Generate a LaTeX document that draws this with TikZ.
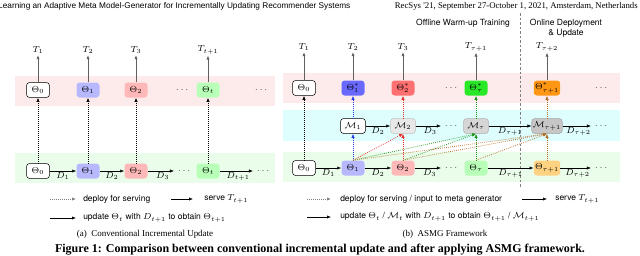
\documentclass[tikz,border=0pt]{standalone}
\usepackage{amsmath, amssymb}
\usepackage{fontspec}
\newfontfamily\helv{TeX Gyre Heros}
\newfontfamily\hdrsans{Liberation Sans}
\newfontfamily\tms{Liberation Serif}
\usetikzlibrary{
    arrows.meta,
    positioning,
    calc
}

\definecolor{bandred}{RGB}{253,235,235}
\definecolor{bandcyan}{RGB}{222,253,253}
\definecolor{bandgreen}{RGB}{234,252,234}
\definecolor{lblue}{RGB}{184,184,255}
\definecolor{lred}{RGB}{255,184,184}
\definecolor{lgreen}{RGB}{184,255,184}
\definecolor{lorange}{RGB}{255,210,130}
\definecolor{dblue}{RGB}{105,105,255}
\definecolor{dred}{RGB}{255,112,112}
\definecolor{dgreen}{RGB}{40,232,40}
\definecolor{dorange}{RGB}{255,150,20}
\definecolor{ablue}{RGB}{40,60,230}
\definecolor{ared}{RGB}{235,45,45}
\definecolor{agreen}{RGB}{30,150,30}
\definecolor{abrown}{RGB}{180,110,40}

\begin{document}
\begin{tikzpicture}[
        x=0.8pt, y=-0.8pt,
        band/.style={draw=none, inner sep=0pt},
        thbox/.style={draw, rounded corners=2.5pt, minimum width=18.4pt, minimum height=12pt,
                      inner sep=1pt, font=\fontsize{7}{8}\selectfont},
        metabox/.style={thbox, minimum width=20pt},
        tlab/.style={font=\fontsize{7.5}{9}\selectfont, inner sep=1pt},
        dlab/.style={font=\fontsize{7.5}{9}\selectfont, inner sep=1pt, below},
        dotnode/.style={font=\fontsize{7}{8}\selectfont, inner sep=0pt},
        legtext/.style={font=\helv\fontsize{6.8}{8}\selectfont, anchor=west, inner sep=0pt},
        subcap/.style={font=\tms\fontsize{7.2}{9}\selectfont, inner sep=0pt},
        upd/.style={-{Latex[length=3.2pt, width=2.6pt]}, line width=0.5pt},
        srv/.style={-{Latex[length=3.2pt, width=2.6pt]}, line width=0.8pt, gray!75!black},
        dep/.style={-{Latex[length=3.2pt, width=2.6pt]}, line width=0.6pt, densely dotted},
    ]
        \useasboundingbox (0,0) rectangle (640,255);

        % Page header and caption
        \node[anchor=west, inner sep=0pt, font=\hdrsans\fontsize{6.6}{8}\selectfont] (hdrl) at (-2,6)
            {Learning an Adaptive Meta Model-Generator for Incrementally Updating Recommender Systems};
        \node[anchor=east, inner sep=0pt, font=\tms\fontsize{7}{8}\selectfont] (hdrr) at (638,6)
            {RecSys '21, September 27-October 1, 2021, Amsterdam, Netherlands};
        \node[anchor=base, inner sep=0pt, font=\tms\bfseries\fontsize{9.6}{11}\selectfont] (figcap) at (320,252.2)
            {Figure 1: Comparison between conventional incremental update and after applying ASMG framework.};

        % (a) Conventional: bands
        \node[band, fill=bandred, minimum width=208pt, minimum height=24pt] (redA) at (145,91) {};
        \node[band, fill=bandgreen, minimum width=208pt, minimum height=24pt] (greenA) at (145,168) {};

        % (a) serving row
        \node[thbox, fill=white] (a0t) at (38,90) {$\Theta_0$};
        \node[thbox, draw=none, fill=lblue] (a1t) at (88,90) {$\Theta_1$};
        \node[thbox, draw=none, fill=lred] (a2t) at (136,90) {$\Theta_2$};
        \node[dotnode] (adots1t) at (183,90) {$\dots$};
        \node[thbox, draw=none, fill=lgreen] (a3t) at (208,90) {$\Theta_t$};
        \node[dotnode] (adots2t) at (262,90) {$\dots$};

        % (a) training row
        \node[thbox, fill=white] (a0b) at (38,171) {$\Theta_0$};
        \node[thbox, draw=none, fill=lblue] (a1b) at (88,171) {$\Theta_1$};
        \node[thbox, draw=none, fill=lred] (a2b) at (136,171) {$\Theta_2$};
        \node[dotnode] (adots1b) at (185,171) {$\dots$};
        \node[thbox, draw=none, fill=lgreen] (a3b) at (208,171) {$\Theta_t$};
        \node[dotnode] (adots2b) at (264,171) {$\dots$};

        % (a) test periods
        \node[tlab] (ta1) at (38,50) {$T_1$};
        \node[tlab] (ta2) at (88,50) {$T_2$};
        \node[tlab] (ta3) at (136,50) {$T_3$};
        \node[tlab] (ta4) at (208,50) {$T_{t+1}$};

        % (a) arrows
        \draw[srv] (a0t) -- (ta1);
        \draw[srv] (a1t) -- (ta2);
        \draw[srv] (a2t) -- (ta3);
        \draw[srv] (a3t) -- (ta4);
        \draw[dep] (a0b) -- (a0t);
        \draw[dep] (a1b) -- (a1t);
        \draw[dep] (a2b) -- (a2t);
        \draw[dep] (a3b) -- (a3t);
        \draw[upd] (a0b) -- node[dlab] {$D_1$} (a1b);
        \draw[upd] (a1b) -- node[dlab] {$D_2$} (a2b);
        \draw[upd, shorten >=3pt] (a2b) -- node[dlab] {$D_3$} (adots1b);
        \draw[upd, shorten >=3pt] (a3b) -- node[dlab] {$D_{t+1}$} (adots2b);

        % (a) legend
        \coordinate (la1s) at (50,199);
        \coordinate (la1e) at (76,199);
        \coordinate (la2s) at (171,199);
        \coordinate (la2e) at (193,199);
        \coordinate (la3s) at (50,218);
        \coordinate (la3e) at (76,218);
        \draw[dep, gray] (la1s) -- (la1e);
        \draw[upd] (la2s) -- (la2e);
        \draw[upd] (la3s) -- (la3e);
        \node[legtext] (lta1) at (83,199) {deploy for serving};
        \node[legtext] (lta2) at (204,199) {serve $T_{t+1}$};
        \node[legtext] (lta3) at (83,218) {update $\Theta_t$ with $D_{t+1}$ to obtain $\Theta_{t+1}$};
        \node[subcap] (capa) at (145,234) {(a)\ \ Conventional Incremental Update};

        % (b) ASMG: bands
        \node[band, fill=bandred, minimum width=269.6pt, minimum height=24pt] (redB) at (451.5,88) {};
        \node[band, fill=bandcyan, minimum width=269.6pt, minimum height=24.8pt] (cyanB) at (451.5,125.5) {};
        \node[band, fill=bandgreen, minimum width=269.6pt, minimum height=24pt] (greenB) at (451.5,167) {};

        % (b) phase divider
        \coordinate (divtop) at (520,13);
        \coordinate (divbot) at (520,188);
        \draw[gray, line width=0.4pt, dash pattern=on 2pt off 1.6pt] (divtop) -- (divbot);
        \node[legtext, anchor=center] (offline) at (463,23) {Offline Warm-up Training};
        \node[legtext, anchor=center, align=center] (online) at (566,28) {Online Deployment\\\& Update};

        % (b) serving row
        \node[thbox, fill=white] (b0t) at (304,88) {$\Theta_0$};
        \node[thbox, draw=none, fill=dblue] (b1t) at (353,88) {$\Theta^{*}_{1}$};
        \node[thbox, draw=none, fill=dred] (b2t) at (403,88) {$\Theta^{*}_{2}$};
        \node[dotnode] (bdots1t) at (452,88) {$\dots$};
        \node[thbox, draw=none, fill=dgreen] (b3t) at (476,88) {$\Theta^{*}_{\tau}$};
        \node[thbox, draw=none, fill=dorange] (b4t) at (547,88) {$\Theta^{*}_{\tau+1}$};
        \node[dotnode] (bdots2t) at (602,88) {$\dots$};

        % (b) meta generator row
        \node[metabox, fill=white] (m1) at (353,126) {$\mathcal{M}_1$};
        \node[metabox, draw=gray!50, fill=gray!18] (m2) at (403,126) {$\mathcal{M}_2$};
        \node[dotnode] (mdots1) at (452,126) {$\dots$};
        \node[metabox, draw=gray!60, fill=gray!32] (m3) at (476,126) {$\mathcal{M}_\tau$};
        \node[metabox, draw=gray!70, fill=gray!45] (m4) at (547,126) {$\mathcal{M}_{\tau+1}$};
        \node[dotnode] (mdots2) at (602,126) {$\dots$};

        % (b) training row
        \node[thbox, fill=white] (b0b) at (304,168) {$\Theta_0$};
        \node[thbox, draw=none, fill=lblue] (b1b) at (353,168) {$\Theta_1$};
        \node[thbox, draw=none, fill=lred] (b2b) at (403,168) {$\Theta_2$};
        \node[dotnode] (bdots1b) at (452,168) {$\dots$};
        \node[thbox, draw=none, fill=lgreen] (b3b) at (476,168) {$\Theta_\tau$};
        \node[thbox, draw=none, fill=lorange] (b4b) at (547,168) {$\Theta_{\tau+1}$};
        \node[dotnode] (bdots2b) at (602,168) {$\dots$};

        % (b) test periods
        \node[tlab] (tb1) at (304,47) {$T_1$};
        \node[tlab] (tb2) at (353,47) {$T_2$};
        \node[tlab] (tb3) at (403,47) {$T_3$};
        \node[tlab] (tb4) at (476,47) {$T_{\tau+1}$};
        \node[tlab] (tb5) at (547,47) {$T_{\tau+2}$};

        % (b) serving arrows
        \draw[srv] (b0t) -- (tb1);
        \draw[srv] (b1t) -- (tb2);
        \draw[srv] (b2t) -- (tb3);
        \draw[srv] (b3t) -- (tb4);
        \draw[srv] (b4t) -- (tb5);
        \draw[dep] (b0b) -- (b0t);

        % (b) inputs to the meta generators
        \draw[dep, ablue] (b1b) -- (m1);
        \draw[dep, ablue] (m1) -- (b1t);
        \draw[dep, ared] (b1b.north) -- (m2.south);
        \draw[dep, ared] (b2b) -- (m2);
        \draw[dep, ared] (m2) -- (b2t);
        \draw[dep, agreen] (b1b.north) -- (m3.south);
        \draw[dep, agreen] (b2b.north) -- (m3.south);
        \draw[dep, agreen] (b3b) -- (m3);
        \draw[dep, agreen] (m3) -- (b3t);
        \draw[dep, abrown] (b1b.north) -- (m4.south);
        \draw[dep, abrown] (b2b.north) -- (m4.south);
        \draw[dep, abrown] (b3b.north) -- (m4.south);
        \draw[dep, abrown] (b4b) -- (m4);
        \draw[dep, abrown] (m4) -- (b4t);

        % (b) update arrows
        \draw[upd] (m1) -- node[dlab] {$D_2$} (m2);
        \draw[upd, shorten >=3pt] (m2) -- node[dlab] {$D_3$} (mdots1);
        \draw[upd] (m3) -- node[dlab] {$D_{\tau+1}$} (m4);
        \draw[upd, shorten >=3pt] (m4) -- node[dlab] {$D_{\tau+2}$} (mdots2);
        \draw[upd] (b0b) -- node[dlab] {$D_1$} (b1b);
        \draw[upd] (b1b) -- node[dlab] {$D_2$} (b2b);
        \draw[upd, shorten >=3pt] (b2b) -- node[dlab] {$D_3$} (bdots1b);
        \draw[upd] (b3b) -- node[dlab] {$D_{\tau+1}$} (b4b);
        \draw[upd, shorten >=3pt] (b4b) -- node[dlab] {$D_{\tau+2}$} (bdots2b);

        % (b) legend
        \coordinate (lb1s) at (307,199);
        \coordinate (lb1e) at (331,199);
        \coordinate (lb2s) at (522,199);
        \coordinate (lb2e) at (547,199);
        \coordinate (lb3s) at (307,217);
        \coordinate (lb3e) at (331,217);
        \draw[dep, gray] (lb1s) -- (lb1e);
        \draw[upd] (lb2s) -- (lb2e);
        \draw[upd] (lb3s) -- (lb3e);
        \node[legtext] (ltb1) at (340,199) {deploy for serving / input to meta generator};
        \node[legtext] (ltb2) at (555,199) {serve $T_{t+1}$};
        \node[legtext] (ltb3) at (340,217)
            {update $\Theta_t$ / $\mathcal{M}_t$ with $D_{t+1}$ to obtain $\Theta_{t+1}$ / $\mathcal{M}_{t+1}$};
        \node[subcap] (capb) at (445,234) {(b)\ \ ASMG Framework};
    \end{tikzpicture}
\end{document}
